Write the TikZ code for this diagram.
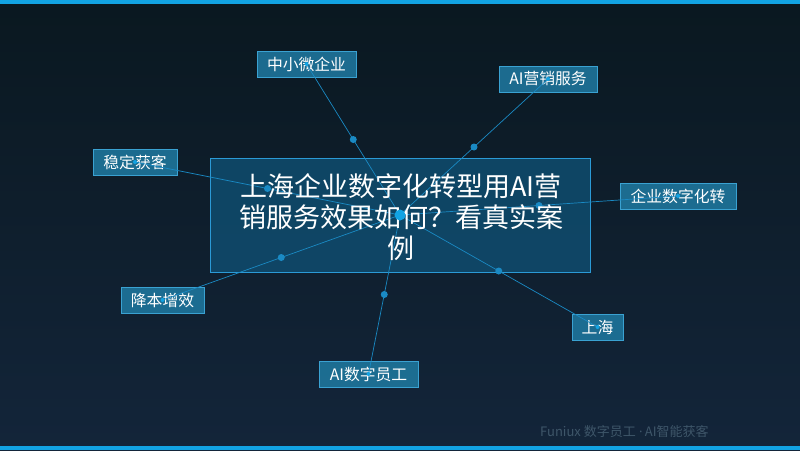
\documentclass[tikz,border=0pt]{standalone}
\usepackage{fontspec}
\setmainfont{Noto Sans CJK SC}
\newfontfamily\latinfont{Noto Sans}
\definecolor{bgtop}{HTML}{0A1820}
\definecolor{bgbot}{HTML}{13253A}
\definecolor{accent}{HTML}{12A3E3}
\definecolor{boxfill}{HTML}{0F4A6B}
\definecolor{boxline}{HTML}{2B9AD6}
\definecolor{lblfill}{HTML}{1F7AA2}
\definecolor{lblline}{HTML}{3AA2D2}
\definecolor{conncol}{HTML}{1A8AC4}
\definecolor{foot}{HTML}{3E5669}
\begin{document}
\begin{tikzpicture}[x=1pt,y=-1pt,
  lbl/.style={draw=lblline, fill=lblfill, fill opacity=0.85, text opacity=1, text=white,
    font=\fontsize{15.8}{18}\selectfont, minimum height=26pt, inner sep=0pt, line width=0.8pt},
  conn/.style={draw=conncol, line width=0.7pt},
  middot/.style={circle, fill=conncol, inner sep=0pt, minimum size=7pt},
  enddot/.style={circle, fill=accent, inner sep=0pt, minimum size=4pt},
  hubdot/.style={circle, fill=accent, inner sep=0pt, minimum size=11pt}]
\useasboundingbox (0,0) rectangle (800,450);
\shade[top color=bgtop, bottom color=bgbot] (0,0) rectangle (800,450);
\fill[accent] (0,0) rectangle (800,4);
\fill[accent] (0,446) rectangle (800,450);
% central box
\node[draw=boxline, fill=boxfill, fill opacity=0.9, line width=0.8pt, minimum width=380pt, minimum height=114pt, inner sep=0pt] (box) at (400,215) {};
\coordinate (hub) at (400,215);
% labels
\node[lbl, minimum width=99pt] (l1) at (306.5,64) {中小微企业};
\node[lbl, minimum width=98pt] (l2) at (548,79) {AI营销服务};
\node[lbl, minimum width=84pt] (l3) at (135,162) {稳定获客};
\node[lbl, minimum width=116pt] (l4) at (678,196) {企业数字化转};
\node[lbl, minimum width=83pt] (l5) at (162.5,300) {降本增效};
\node[lbl, minimum width=99pt] (l6) at (368.5,374) {AI数字员工};
\node[lbl, minimum width=51pt] (l7) at (597.5,327) {上海};
% connectors
\foreach \n in {l1,l2,l3,l4,l5,l6,l7}{
  \draw[conn] (hub) -- (\n.center) node[midway, middot]{};
  \node[enddot] at (\n.center) {};
}
% title
\node[text=white, align=center, font=\fontsize{27}{31}\selectfont, inner sep=0pt] (title) at (401,217)
  {上海企业数字化转型用AI营\\销服务效果如何？看真实案\\例};
\node[hubdot] (hubdot) at (hub) {};
% footer
\node[text=foot, font=\fontsize{13}{15}\selectfont, anchor=west, inner sep=0pt] (footer) at (540,432) {Funiux 数字员工{\latinfont\ ·\,}AI智能获客};
\end{tikzpicture}
\end{document}
